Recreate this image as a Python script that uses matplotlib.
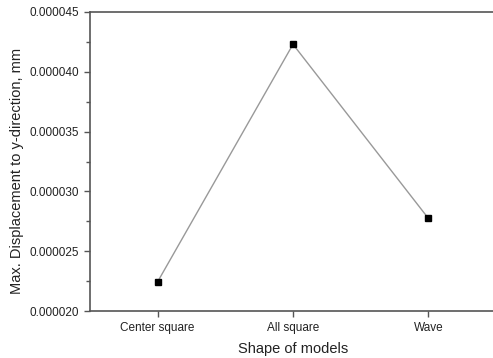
import matplotlib.pyplot as plt
from matplotlib.ticker import MultipleLocator, FormatStrFormatter

shapes = ["Center square", "All square", "Wave"]
max_disp = [0.00002245, 0.0000423, 0.00002775]

plt.rcParams['font.family'] = ['Liberation Sans', 'DejaVu Sans']

fig = plt.figure(figsize=(4.93, 3.58), dpi=100)
ax = fig.add_axes([90 / 493, 1 - 311 / 358, 406 / 493, 299 / 358])

x = list(range(len(shapes)))
ax.plot(x, max_disp, color='#999999', linewidth=1.0, marker='s',
        markersize=4.5, markerfacecolor='black', markeredgecolor='black',
        clip_on=False)

ax.set_xlim(-0.5, 2.5)
ax.set_ylim(0.000020, 0.000045)
ax.set_xticks(x)
ax.set_xticklabels(shapes)
ax.yaxis.set_major_locator(MultipleLocator(0.000005))
ax.yaxis.set_minor_locator(MultipleLocator(0.0000025))
ax.yaxis.set_major_formatter(FormatStrFormatter('%.6f'))

for s in ax.spines.values():
    s.set_color('#555555')
    s.set_linewidth(1.2)
ax.tick_params(axis='both', which='both', direction='out', colors='#555555',
               labelcolor='#222222', labelsize=8.5, width=1)
ax.tick_params(which='major', length=4.5)
ax.tick_params(which='minor', length=3)

ax.set_xlabel("Shape of models", fontsize=10.5, color='#222222', labelpad=6)
ax.set_ylabel("Max. Displacement to y-direction, mm", fontsize=10.5,
              color='#222222')
ax.yaxis.set_label_coords(-0.163, 0.467)

fig.savefig("out.png", dpi=100)
